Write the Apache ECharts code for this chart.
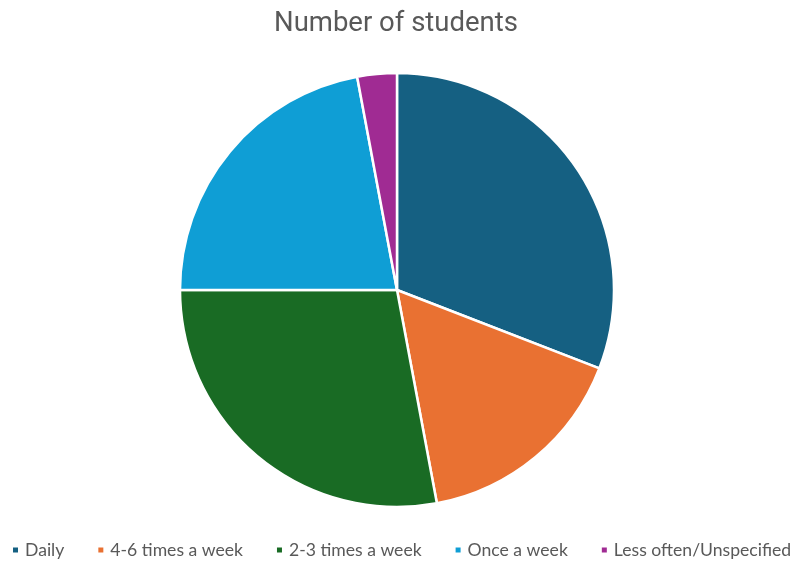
<!DOCTYPE html>
<html>
<head>
<meta charset="utf-8">
<script src="https://cdn.jsdelivr.net/npm/echarts@6/dist/echarts.min.js"></script>
<style>
  html, body { margin: 0; padding: 0; background: #fff; }
  #chart { width: 792px; height: 561px; }
</style>
</head>
<body>
<div id="chart"></div>
<script>
// Survey: how often students do it
const categories = ['Daily', '4-6 times a week', '2-3 times a week', 'Once a week', 'Less often/Unspecified'];
const students = [21, 11, 19, 15, 2];
const sliceColors = ['#156082', '#E97132', '#196B24', '#0F9ED5', '#A02B93'];

const chart = echarts.init(document.getElementById('chart'), null, { renderer: 'canvas' });

chart.setOption({
  animation: false,
  color: sliceColors,
  title: {
    text: 'Number of students',
    left: 'center',
    top: 5,
    textStyle: {
      fontFamily: 'Roboto',
      fontSize: 27.5,
      fontWeight: 'normal',
      color: '#595959'
    }
  },
  legend: {
    top: 541,
    left: 11,
    right: -40,
    padding: 0,
    itemWidth: 7,
    itemHeight: 7,
    itemGap: 32,
    icon: 'rect',
    textStyle: {
      fontFamily: 'Lato',
      fontSize: 17.6,
      color: '#595959',
      padding: [0, 0, 0, 1]
    },
    data: categories
  },
  series: [{
    type: 'pie',
    center: [397, 290],
    radius: 217,
    startAngle: 90,
    clockwise: true,
    label: { show: false },
    labelLine: { show: false },
    emphasis: { disabled: true },
    itemStyle: { borderColor: '#ffffff', borderWidth: 2.5 },
    data: categories.map((name, i) => ({ name, value: students[i] }))
  }]
});
</script>
</body>
</html>
